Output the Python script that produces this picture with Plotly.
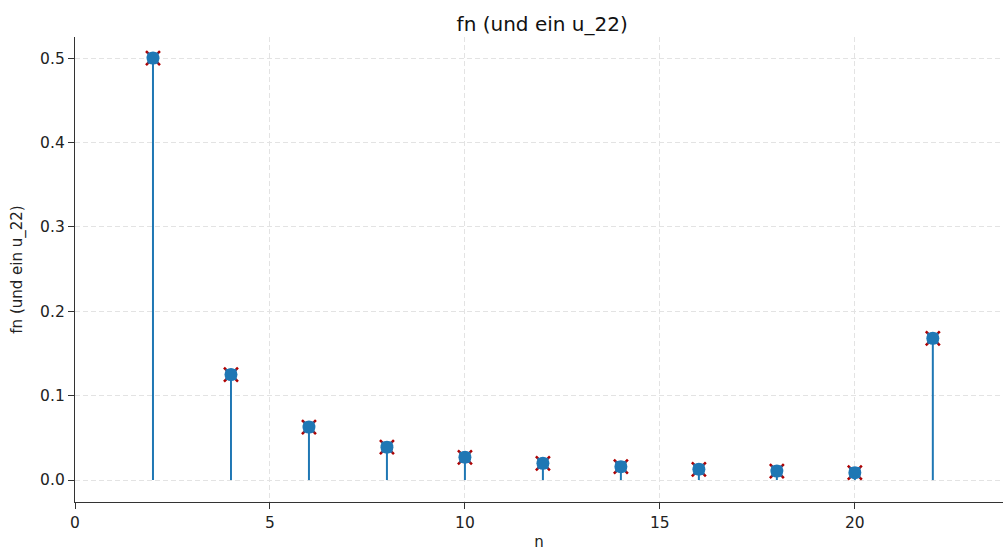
import plotly.graph_objects as go

n_vals = [2, 4, 6, 8, 10, 12, 14, 16, 18, 20, 22]
fn_vals = [0.5, 0.125, 0.0628, 0.039, 0.027, 0.0198, 0.0158, 0.0128, 0.0107, 0.0088, 0.168]

title = "fn (und ein u_22)"
x_label = "n"
y_label = "fn (und ein u_22)"

blue = "#1f77b4"
stem_x, stem_y = [], []
for x, y in zip(n_vals, fn_vals):
    stem_x += [x, x, None]
    stem_y += [0, y, None]

fig = go.Figure()
fig.add_trace(go.Scatter(x=stem_x, y=stem_y, mode="lines",
                         line=dict(color=blue, width=2), hoverinfo="skip", showlegend=False))
fig.add_trace(go.Scatter(x=n_vals, y=fn_vals, mode="markers",
                         marker=dict(symbol="x-thin", size=14, line=dict(color="#b00000", width=2.5)),
                         showlegend=False))
fig.add_trace(go.Scatter(x=n_vals, y=fn_vals, mode="markers",
                         marker=dict(symbol="square", size=11, color=blue, line=dict(width=0)),
                         showlegend=False, hoverinfo="skip"))
fig.add_trace(go.Scatter(x=n_vals, y=fn_vals, mode="markers",
                         marker=dict(symbol="circle", size=13, color=blue, line=dict(width=0)),
                         showlegend=False))

font = "DejaVu Sans"
grid = dict(showgrid=True, gridcolor="#e3e3e3", griddash="5px,3px", gridwidth=1)
fig.update_layout(
    width=1004, height=551,
    margin=dict(l=75, r=1, t=37, b=49, autoexpand=False),
    plot_bgcolor="white", paper_bgcolor="white",
    font=dict(family=font, size=15, color="#222"),
    title=dict(text=title, x=0.54, xanchor="center", y=0.956, yanchor="middle",
               font=dict(family=font, size=20, color="#111")),
    xaxis=dict(range=[0, 23.8], tickmode="linear", tick0=0, dtick=5,
               showline=True, linecolor="#333", linewidth=1.3,
               ticks="outside", ticklen=6, tickcolor="#333", **grid,
               zeroline=False, mirror=False, tickfont=dict(size=15.5), automargin=False,
               title=dict(text=x_label, font=dict(size=15), standoff=13)),
    yaxis=dict(range=[-0.026, 0.525], tickmode="linear", tick0=0, dtick=0.1, tickformat=".1f",
               showline=True, linecolor="#333", linewidth=1.3,
               ticks="outside", ticklen=6, tickcolor="#333", **grid,
               zeroline=False, mirror=False, tickfont=dict(size=15.5), automargin=False,
               title=dict(text=y_label, font=dict(size=15), standoff=13)),
)

fig.write_html(
    "out.html",
    config={"displayModeBar": False},
    post_script="document.body.style.margin='0';document.body.style.overflow='hidden';",
)
